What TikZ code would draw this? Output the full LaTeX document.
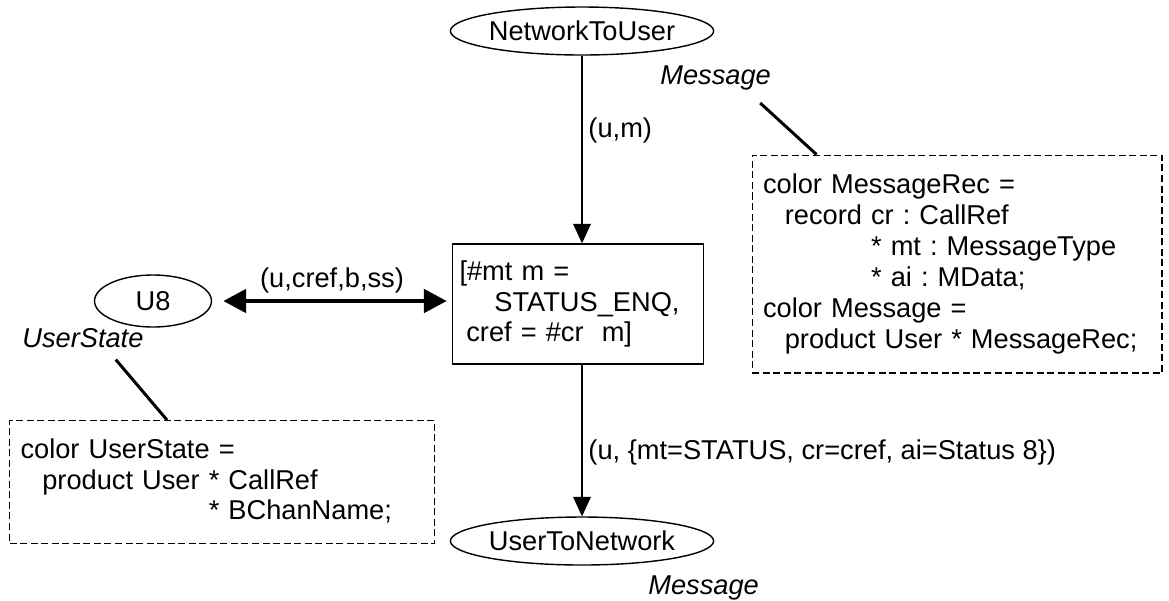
\documentclass[tikz,border=0pt]{standalone}
\usepackage{fontspec}
\setmainfont{Liberation Sans}
\usetikzlibrary{positioning,shapes.geometric,arrows.meta}

\begin{document}
\frenchspacing
\begin{tikzpicture}[x=0.02cm, y=-0.02cm,
	font=\fontsize{15.5}{17.6}\selectfont,
	pstyle/.style={ellipse, draw, line width=0.8pt, inner sep=0pt,
	minimum height=0.96cm},
	tstyle/.style={rectangle, draw, line width=0.8pt, align=left,
	inner xsep=0.14cm, text width=4.74cm, minimum height=2.4cm},
	dstyle/.style={rectangle, draw, line width=0.6pt,
	dash pattern=on 4pt off 2pt, align=left, inner xsep=0.22cm},
	cstyle/.style={font=\fontsize{15.5}{17.6}\selectfont\itshape, inner sep=0pt},
	arcstyle/.style={-{Triangle[length=11pt,width=10pt]}, line width=0.7pt},
	biarc/.style={{Triangle[length=13pt,width=13pt]}-{Triangle[length=13pt,width=13pt]},
	line width=2.8pt, shorten <=0.22cm, shorten >=0.1cm},
	notestyle/.style={line width=1.7pt}
	]
	\useasboundingbox (0,0) rectangle (1169,600);

	% places
	\node[pstyle, minimum width=4.74cm] (ntu) at (582,31) {NetworkToUser};
	\node[pstyle, minimum width=2.34cm, minimum height=1.04cm] (u8) at (153,301) {U8};
	\node[pstyle, minimum width=4.8cm] (utn) at (582,541) {UserToNetwork};

	% color sets of the places
	\node[cstyle, anchor=base west] (msg1) at (660,84) {Message};
	\node[cstyle, anchor=base west] (ustate) at (22,347) {UserState};
	\node[cstyle, anchor=base west] (msg2) at (648,594) {Message};

	% transition
	\node[tstyle] (tr) at (578,304) {[\#mt m =\\
		\hspace*{1.28em}STATUS\_ENQ,\\
		\hspace*{0.25em}cref = \#cr\ \ m]};

	% declarations
	\node[dstyle, text width=7.76cm, minimum height=4.36cm] (decl1) at (957,264) {color MessageRec =\\
		\hspace*{0.8em}record cr : CallRef\\
		\hspace*{0.8em}\phantom{record }* mt : MessageType\\
		\hspace*{0.8em}\phantom{record }* ai : MData;\\
		color Message =\\
		\hspace*{0.8em}product User * MessageRec;};
	\node[dstyle, text width=8.06cm, minimum height=2.46cm] (decl2) at (222,482) {color UserState =\\
		\hspace*{0.8em}product User * CallRef\\
		\hspace*{0.8em}\phantom{product User }* BChanName;};

	% arcs
	\draw[arcstyle] (ntu.south) -- node[right, pos=0.4] (lbl1) {(u,m)} (ntu.south |- tr.north);
	\draw[arcstyle] (utn.north |- tr.south) -- node[right, pos=0.58] (lbl2) {(u, \{mt=STATUS, cr=cref, ai=Status 8\})} (utn.north);
	\draw[biarc] (u8.east) -- node[above] (lbl3) {(u,cref,b,ss)} (u8.east -| tr.west);

	% notes
	\draw[notestyle] ([xshift=-0.22cm, yshift=-0.26cm]msg1.south east) -- ([xshift=1.3cm]decl1.north west);
	\draw[notestyle] ([xshift=-0.56cm, yshift=-0.24cm]ustate.south east) -- ([xshift=3.16cm]decl2.north west);
\end{tikzpicture}
\end{document}
